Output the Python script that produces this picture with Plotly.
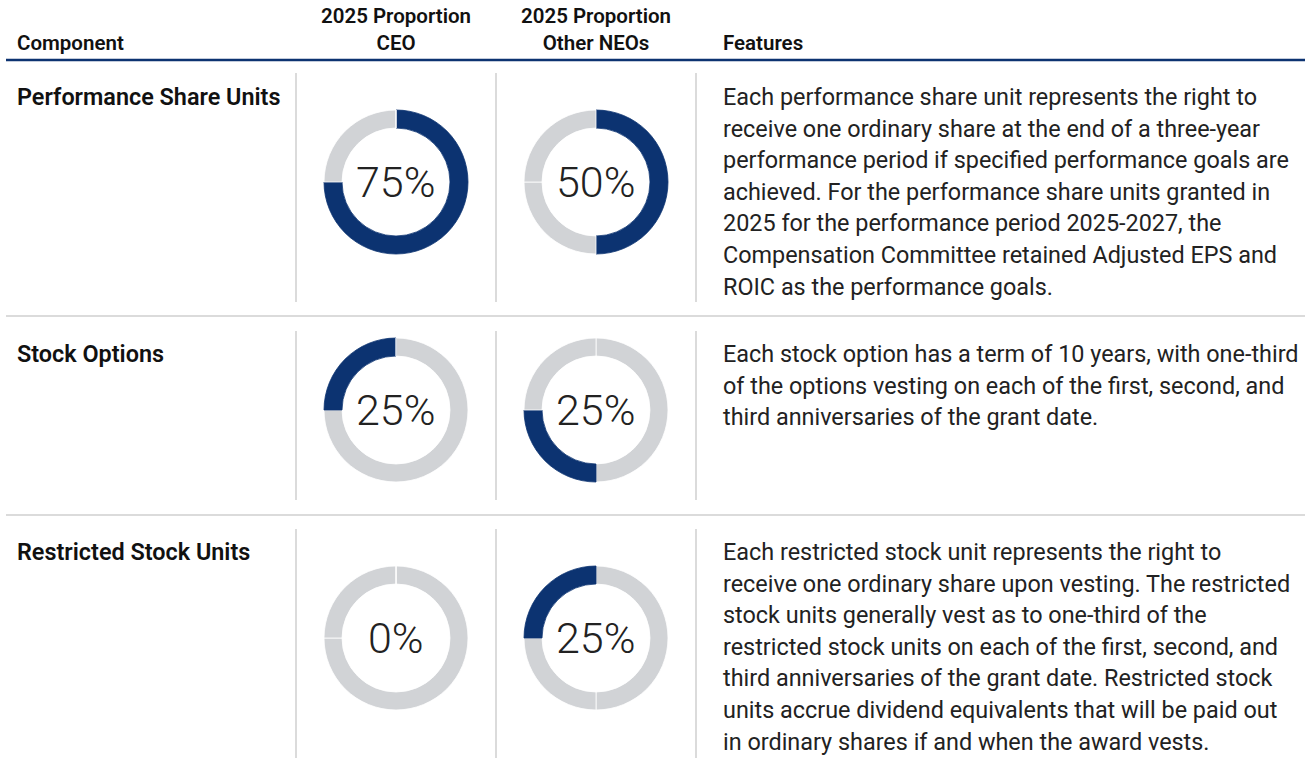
import plotly.graph_objects as go

W, H = 1307, 771

components = ["Performance Share Units", "Stock Options", "Restricted Stock Units"]
ceo_pct = [75, 25, 0]
neo_pct = [50, 25, 25]
header_cols = ["Component", "2025 Proportion<br>CEO", "2025 Proportion<br>Other NEOs", "Features"]
features = [
    ["Each performance share unit represents the right to",
     "receive one ordinary share at the end of a three-year",
     "performance period if specified performance goals are",
     "achieved. For the performance share units granted in",
     "2025 for the performance period 2025-2027, the",
     "Compensation Committee retained Adjusted EPS and",
     "ROIC as the performance goals."],
    ["Each stock option has a term of 10 years, with one-third",
     "of the options vesting on each of the first, second, and",
     "third anniversaries of the grant date."],
    ["Each restricted stock unit represents the right to",
     "receive one ordinary share upon vesting. The restricted",
     "stock units generally vest as to one-third of the",
     "restricted stock units on each of the first, second, and",
     "third anniversaries of the grant date. Restricted stock",
     "units accrue dividend equivalents that will be paid out",
     "in ordinary shares if and when the award vests."],
]

NAVY = "#0c3371"
GRAY = "#d1d3d6"
TEXT = "#222222"
LINE_GRAY = "#cfcfcf"
FONT = "Roboto"


def px(x):
    return x / W


def py(y):
    return 1 - y / H


fig = go.Figure()

row_cy = [182, 410, 638]
col_cx = [396, 596]
R = 72


def donut(values, row, cx, cy):
    colors = [NAVY if i == row else GRAY for i in range(len(values))]
    lcols = [NAVY if (i == row and values[i] > 0) else "#ffffff" for i in range(len(values))]
    fig.add_trace(go.Pie(
        values=values, labels=components, sort=False, direction="clockwise", rotation=0,
        hole=0.75, textinfo="none", hoverinfo="skip", showlegend=False,
        marker=dict(colors=colors, line=dict(color=lcols, width=0.8)),
        domain=dict(x=[px(cx - R), px(cx + R)], y=[py(cy + R), py(cy - R)]),
    ))
    fig.add_annotation(x=px(cx), y=py(cy), xref="paper", yref="paper",
                       text=f"{values[row]}%", showarrow=False,
                       xanchor="center", yanchor="middle",
                       font=dict(family=FONT, size=43, color=TEXT, weight=300))


for r in range(3):
    donut(ceo_pct, r, col_cx[0], row_cy[r])
    donut(neo_pct, r, col_cx[1], row_cy[r])

# header texts
hdr_font = dict(family=FONT, size=20.5, color="#111111", weight=600)
fig.add_annotation(x=px(15), y=py(43), text=header_cols[0], xanchor="left", yanchor="middle")
fig.add_annotation(x=px(396), y=py(30), text=header_cols[1], xanchor="center", yanchor="middle")
fig.add_annotation(x=px(596), y=py(30), text=header_cols[2], xanchor="center", yanchor="middle")
fig.add_annotation(x=px(721), y=py(43), text=header_cols[3], xanchor="left", yanchor="middle")
for a in fig.layout.annotations[-4:]:
    a.update(xref="paper", yref="paper", showarrow=False, font=hdr_font)

# row labels and features
row_top = [97, 354, 552]
for r in range(3):
    fig.add_annotation(x=px(15), y=py(row_top[r]), xref="paper", yref="paper",
                       text=components[r], showarrow=False, xanchor="left", yanchor="middle",
                       font=dict(family=FONT, size=23.4, color="#111111", weight=600))
    for i, line in enumerate(features[r]):
        fig.add_annotation(x=px(721), y=py(row_top[r] + i * 31.6), xref="paper", yref="paper",
                           text=line, showarrow=False, xanchor="left", yanchor="middle",
                           font=dict(family=FONT, size=23.4, color=TEXT))

# lines
shapes = [dict(type="line", xref="paper", yref="paper", x0=px(6), x1=px(1305),
               y0=py(60), y1=py(60), line=dict(color=NAVY, width=2.5))]
for y in [316, 515]:
    shapes.append(dict(type="line", xref="paper", yref="paper", x0=px(6), x1=px(1305),
                       y0=py(y), y1=py(y), line=dict(color=LINE_GRAY, width=1.5)))
vspans = [(73, 302), (331, 500), (529, 758)]
for (y0, y1) in vspans:
    for x in [296, 496, 696]:
        shapes.append(dict(type="line", xref="paper", yref="paper", x0=px(x), x1=px(x),
                           y0=py(y0), y1=py(y1), line=dict(color=LINE_GRAY, width=1.5)))

fig.update_layout(width=W, height=H, margin=dict(l=0, r=0, t=0, b=0),
                  paper_bgcolor="white", plot_bgcolor="white", shapes=shapes,
                  font=dict(family=FONT))

fig.write_html("out.html", config={"displayModeBar": False},
               post_script="document.body.style.margin='0';document.body.style.overflow='hidden';")
